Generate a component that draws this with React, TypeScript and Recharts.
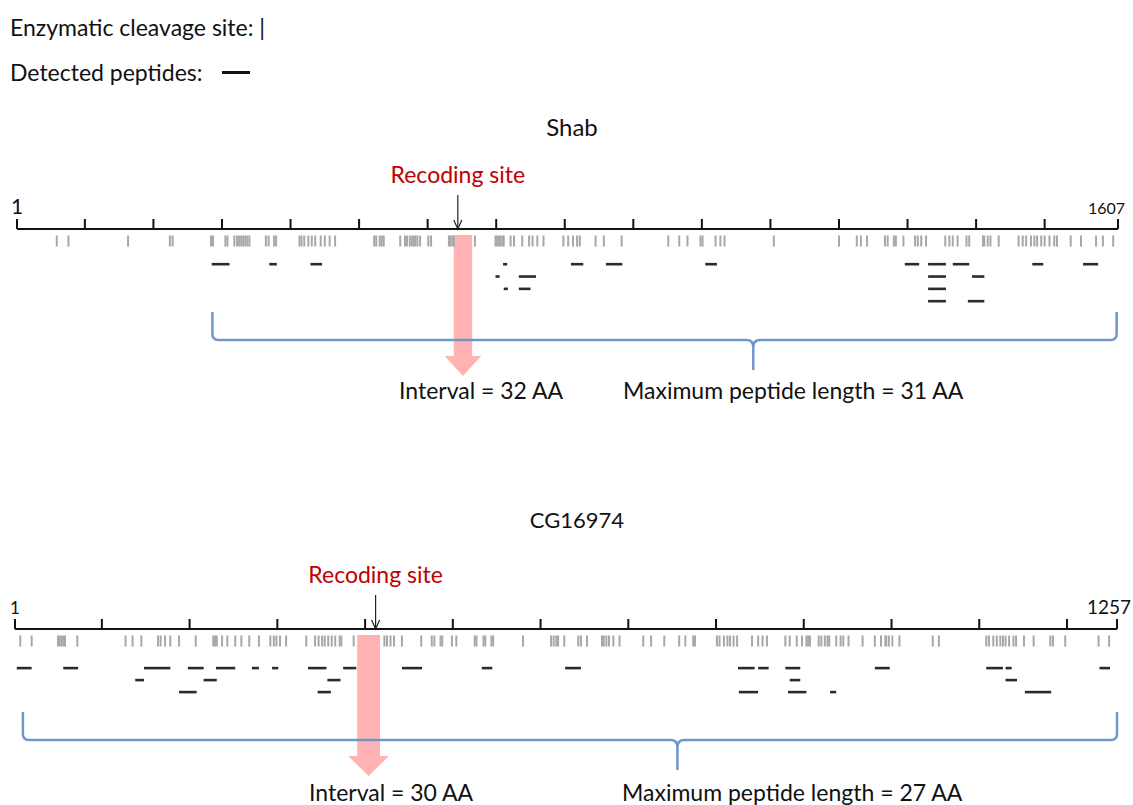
import React from 'react';
import { ScatterChart, Scatter, XAxis, YAxis, ReferenceLine } from 'recharts';

// Shab: enzymatic cleavage sites (AA position)
const shabSites = [
  59, 76, 163, 224, 228, 284, 287, 305, 308, 318, 322, 325, 328, 331, 334, 337, 340, 364, 368, 376, 379,
  413, 416, 420, 426, 431, 436, 444, 450, 457, 465, 522, 525, 530, 533, 536, 560, 567, 570, 574, 577, 580,
  582, 585, 589, 601, 605, 631, 633, 636, 638, 669, 699, 701, 704, 706, 709, 711, 721, 726, 738, 748, 753,
  760, 769, 798, 805, 812, 818, 822, 845, 857, 883, 951, 967, 979, 998, 1001, 1020, 1027, 1033, 1105, 1200,
  1226, 1232, 1241, 1267, 1271, 1280, 1283, 1294, 1311, 1315, 1320, 1327, 1355, 1361, 1366, 1373, 1386,
  1390, 1410, 1412, 1417, 1421, 1433, 1462, 1468, 1473, 1480, 1485, 1489, 1495, 1500, 1507, 1514, 1518,
  1538, 1553, 1575, 1585, 1600,
];

// Shab: detected peptides [start, end, lane]
const shabPeptides: [number, number, number][] = [
  [285, 311, 1], [369, 380, 1], [429, 446, 1], [710, 716, 1], [809, 827, 1], [860, 884, 1], [1005, 1022, 1],
  [1296, 1317, 1], [1330, 1356, 1], [1366, 1390, 1], [1482, 1498, 1], [1556, 1578, 1],
  [699, 705, 2], [733, 758, 2], [1330, 1356, 2], [1394, 1412, 2],
  [711, 717, 3], [733, 750, 3], [1330, 1356, 3],
  [1330, 1356, 4], [1388, 1412, 4],
];

const cgSites = [
  7, 20, 50, 52, 54, 56, 58, 72, 127, 135, 145, 164, 167, 172, 178, 188, 207, 227, 229, 231, 237, 243, 252,
  259, 268, 279, 292, 296, 299, 303, 310, 333, 343, 347, 351, 354, 358, 362, 366, 371, 373, 387, 422, 425,
  429, 433, 442, 464, 476, 479, 486, 488, 499, 504, 525, 527, 535, 537, 544, 546, 580, 612, 615, 618, 620,
  627, 643, 646, 653, 670, 672, 675, 678, 683, 690, 717, 726, 741, 758, 765, 774, 776, 801, 804, 809, 813,
  816, 820, 824, 841, 848, 853, 858, 879, 884, 892, 898, 903, 905, 907, 917, 920, 924, 927, 929, 937, 942,
  945, 951, 967, 981, 988, 993, 994, 997, 1001, 1009, 1047, 1054, 1108, 1111, 1116, 1120, 1124, 1127, 1130,
  1134, 1139, 1142, 1151, 1162, 1181, 1184, 1198, 1236, 1248,
];

const cgPeptides: [number, number, number][] = [
  [3, 20, 1], [56, 73, 1], [148, 178, 1], [198, 216, 1], [230, 252, 1], [271, 279, 1], [294, 301, 1],
  [335, 356, 1], [375, 390, 1], [442, 465, 1], [533, 545, 1], [628, 646, 1], [825, 844, 1], [848, 860, 1],
  [879, 896, 1], [981, 998, 1], [1108, 1127, 1], [1130, 1137, 1], [1237, 1249, 1],
  [138, 148, 2], [216, 231, 2], [357, 372, 2], [884, 896, 2], [1130, 1143, 2],
  [188, 208, 3], [346, 361, 3], [826, 848, 3], [882, 903, 3], [930, 937, 3], [1152, 1182, 3],
];

const shabTicks = [100, 200, 300, 400, 500, 600, 700, 800, 900, 1000, 1100, 1200, 1300, 1400, 1500];
const cgTicks = [100, 200, 300, 400, 500, 600, 700, 800, 900, 1000, 1100, 1200];

const FONT = 'Lato, "Open Sans", sans-serif';
const AXIS_H = 90;
const PLOT_H = 160;
const BLUE = '#6f97ca';

type PanelProps = {
  length: number;
  ticks: number[];
  sites: number[];
  peptides: [number, number, number][];
  recoding: number;
  interval: [number, number];
  brace: [number, number, number];
  axisY: number;
  left: number;
  right: number;
  row1: number;
  gap: number;
  startSize: number;
  endSize: number;
  endDx: number;
};

function Panel(p: PanelProps) {
  const d0 = 1 - (p.row1 - p.axisY) / p.gap;
  const lane = (px: number) => d0 + px / p.gap;
  const siteData = p.sites.map((x) => ({ x, y: lane(12) }));
  const [bStart, bTip, bEnd] = p.brace;

  const renderTick = (props: any) => {
    const v = props.payload.value;
    if (v !== 1 && v !== p.length) return <g />;
    const first = v === 1;
    return (
      <text
        x={first ? props.x : props.x + p.endDx}
        y={AXIS_H - 15}
        textAnchor={first ? 'middle' : 'end'}
        fontSize={first ? p.startSize : p.endSize}
        fontFamily={FONT}
        fill="#111"
      >
        {v}
      </text>
    );
  };

  const arrowShape = (props: any) => {
    const { x1, y1, x2, y2 } = props;
    const head = 20;
    const ext = 9;
    const mid = (x1 + x2) / 2;
    const pts = [
      [x1, y1], [x2, y1], [x2, y2 - head], [x2 + ext, y2 - head], [mid, y2],
      [x1 - ext, y2 - head], [x1, y2 - head],
    ].map((q) => q.join(',')).join(' ');
    return <polygon points={pts} fill="#ffb3b3" />;
  };

  const braceShape = (props: any) => {
    const { x1, y1, x2 } = props;
    const y = y1;
    const tx = x1 + ((bTip - bStart) / (bEnd - bStart)) * (x2 - x1);
    const d = [
      `M ${x1} ${y - 28} L ${x1} ${y - 6} Q ${x1} ${y} ${x1 + 6} ${y}`,
      `L ${tx - 7} ${y} Q ${tx} ${y} ${tx} ${y + 7} L ${tx} ${y + 30}`,
      `M ${tx} ${y + 7} Q ${tx} ${y} ${tx + 7} ${y}`,
      `L ${x2 - 6} ${y} Q ${x2} ${y} ${x2} ${y - 6} L ${x2} ${y - 28}`,
    ].join(' ');
    return <path d={d} fill="none" stroke={BLUE} strokeWidth={2.5} />;
  };

  const recodingShape = (props: any) => {
    const { x1, y1, y2 } = props;
    return (
      <g>
        <line x1={x1} y1={y1} x2={x1} y2={y2} stroke="#222" strokeWidth={1.2} />
        <polyline
          points={`${x1 - 4},${y2 - 9} ${x1},${y2} ${x1 + 4},${y2 - 9}`}
          fill="none"
          stroke="#222"
          strokeWidth={1.2}
        />
        <text x={x1} y={y1 - 12} textAnchor="middle" fontSize={23} fontFamily={FONT} fill="#c00000">
          Recoding site
        </text>
      </g>
    );
  };

  return (
    <div style={{ position: 'absolute', left: 0, top: p.axisY - AXIS_H }}>
      <ScatterChart
        width={1133}
        height={AXIS_H + PLOT_H}
        margin={{ top: 0, right: p.right, bottom: 0, left: p.left }}
      >
        <XAxis
          type="number"
          dataKey="x"
          orientation="top"
          height={AXIS_H}
          domain={[1, p.length]}
          allowDataOverflow
          ticks={[1, ...p.ticks, p.length]}
          interval={0}
          tickSize={10}
          axisLine={{ stroke: '#111', strokeWidth: 2 }}
          tickLine={{ stroke: '#111', strokeWidth: 2 }}
          tick={renderTick}
        />
        <YAxis type="number" dataKey="y" hide reversed domain={[d0, lane(PLOT_H)]} allowDataOverflow />
        <Scatter
          data={siteData}
          isAnimationActive={false}
          shape={(s: any) => (
            <line x1={s.cx} x2={s.cx} y1={s.cy - 5.5} y2={s.cy + 5.5} stroke="#a8a8a8" strokeWidth={2} />
          )}
        />
        {p.peptides.map(([s, e, r], i) => (
          <ReferenceLine
            key={i}
            segment={[{ x: s, y: r }, { x: e, y: r }]}
            stroke="#2b2b2b"
            strokeWidth={2.6}
            ifOverflow="visible"
          />
        ))}
        <ReferenceLine
          segment={[{ x: p.interval[0], y: lane(6) }, { x: p.interval[1], y: lane(147) }]}
          ifOverflow="visible"
          shape={arrowShape}
        />
        <ReferenceLine
          segment={[{ x: bStart, y: lane(111) }, { x: bEnd, y: lane(111) }]}
          ifOverflow="visible"
          shape={braceShape}
        />
        <ReferenceLine
          segment={[{ x: p.recoding, y: lane(-34) }, { x: p.recoding, y: lane(0) }]}
          ifOverflow="visible"
          shape={recodingShape}
        />
      </ScatterChart>
    </div>
  );
}

const label = (text: string, left: number, top: number, size: number, center = false) => (
  <div
    style={{
      position: 'absolute',
      left,
      top,
      fontSize: size,
      lineHeight: '24px',
      whiteSpace: 'nowrap',
      color: '#111',
      transform: center ? 'translateX(-50%)' : undefined,
    }}
  >
    {text}
  </div>
);

export default function App() {
  return (
    <div
      style={{
        position: 'absolute',
        left: 0,
        top: 0,
        width: 1133,
        height: 805,
        background: '#fff',
        fontFamily: FONT,
        overflow: 'hidden',
      }}
    >
      {label('Enzymatic cleavage site: |', 10, 15, 23)}
      {label('Detected peptides:', 10, 60, 23)}
      <div style={{ position: 'absolute', left: 222, top: 71, width: 28, height: 3, background: '#111' }} />
      {label('Shab', 572, 115, 24, true)}
      {label('CG16974', 577, 508, 22, true)}

      <Panel
        length={1607}
        ticks={shabTicks}
        sites={shabSites}
        peptides={shabPeptides}
        recoding={644}
        interval={[638, 665]}
        brace={[286, 1075, 1605]}
        axisY={229}
        left={17}
        right={15}
        row1={264.2}
        gap={12.33}
        startSize={21}
        endSize={16}
        endDx={7}
      />
      <Panel
        length={1257}
        ticks={cgTicks}
        sites={cgSites}
        peptides={cgPeptides}
        recoding={412}
        interval={[391, 417]}
        brace={[10, 756, 1257]}
        axisY={629}
        left={15}
        right={16}
        row1={668.1}
        gap={12}
        startSize={17}
        endSize={19}
        endDx={14}
      />

      {label('Interval = 32 AA', 399, 378, 23)}
      {label('Maximum peptide length = 31 AA', 623, 378, 23)}
      {label('Interval = 30 AA', 309, 780, 23)}
      {label('Maximum peptide length = 27 AA', 622, 780, 23)}
    </div>
  );
}
